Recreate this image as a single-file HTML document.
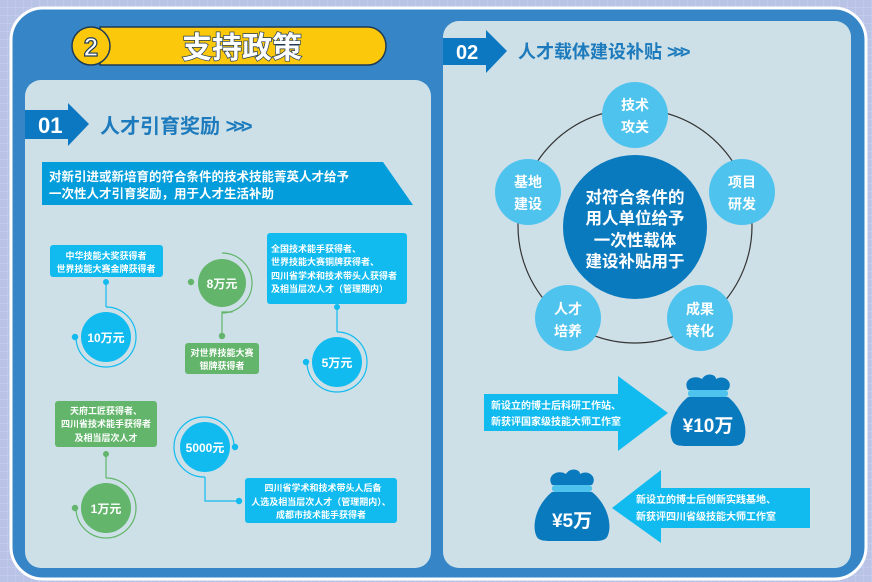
<!DOCTYPE html>
<html><head><meta charset="utf-8"><style>
html,body{margin:0;padding:0;}
body{width:872px;height:582px;overflow:hidden;background:#b9c3e6;}
svg{display:block;font-family:"Liberation Sans","Noto Sans CJK SC",sans-serif;font-weight:bold;}
</style></head><body>
<svg width="872" height="582" viewBox="0 0 872 582" xmlns="http://www.w3.org/2000/svg">
<defs>
<pattern id="g" width="8" height="8" patternUnits="userSpaceOnUse"><rect width="8" height="8" fill="#b9c3e6"/><path d="M8 0V8M0 8H8" stroke="#c9d2ef" stroke-width="1"/></pattern>
</defs>
<rect width="872" height="582" fill="url(#g)"/>
<rect x="11" y="8" width="855" height="571" rx="32" fill="#3585c7" stroke="#fff" stroke-width="3"/>
<rect x="25" y="80" width="406" height="488" rx="16" fill="#cde0e7"/>
<rect x="443" y="21" width="408" height="547" rx="16" fill="#cde0e7"/>

<!-- title -->
<path d="M100 27H368a18 19 0 0 1 0 38H100Z" fill="#fcc80c" stroke="#1f3a56" stroke-width="1.5"/>
<circle cx="91" cy="46" r="19" fill="#fcc80c" stroke="#1f3a56" stroke-width="1.5"/>
<text x="91" y="56" font-size="26" fill="#fff" stroke="#1f3a56" stroke-width="1.2" text-anchor="middle">2</text>
<text x="242" y="58" font-size="30" fill="#fff" stroke="#1f3a56" stroke-width="1.4" paint-order="stroke" text-anchor="middle">支持政策</text>

<!-- 01 -->
<path d="M25 110H68V103L89 124L68 146V139H25Z" fill="#0b78c1"/>
<text x="38" y="133" font-size="22" fill="#fff">01</text>
<text x="100" y="133" font-size="20" fill="#1d7bbd">人才引育奖励 <tspan letter-spacing="-4">&gt;&gt;&gt;</tspan></text>
<path d="M42 162H383L413 205H42Z" fill="#029dda"/>
<text x="49" y="181" font-size="12.5" fill="#fff">对新引进或新培育的符合条件的技术技能菁英人才给予</text>
<text x="49" y="198" font-size="12.5" fill="#fff">一次性人才引育奖励，用于人才生活补助</text>

<!-- 10万 -->
<rect x="50" y="245" width="113" height="32" rx="3" fill="#12bbef"/>
<text x="106" y="259" font-size="9" fill="#fff" text-anchor="middle">中华技能大奖获得者</text>
<text x="106" y="272" font-size="9" fill="#fff" text-anchor="middle">世界技能大赛金牌获得者</text>
<line x1="106" y1="282" x2="106" y2="307" stroke="#12bbef" stroke-width="1.2"/>
<circle cx="106" cy="282" r="3" fill="#12bbef"/>
<path d="M106 307A30 30 0 1 1 76 337" fill="none" stroke="#12bbef" stroke-width="1.2"/>
<circle cx="75" cy="337" r="3.2" fill="#12bbef"/>
<circle cx="106" cy="337" r="25" fill="#12bbef"/>
<text x="106" y="342" font-size="12" fill="#fff" text-anchor="middle">10万元</text>

<!-- 8万 -->
<path d="M222 253A30 30 0 1 1 222 313" fill="none" stroke="#62b56a" stroke-width="1.2"/>
<circle cx="191" cy="282" r="3.2" fill="#62b56a"/>
<circle cx="222" cy="283" r="24" fill="#62b56a"/>
<text x="222" y="288" font-size="12" fill="#fff" text-anchor="middle">8万元</text>
<path d="M232 311V312H222V336" fill="none" stroke="#62b56a" stroke-width="1.2"/>
<circle cx="222" cy="336" r="3.2" fill="#62b56a"/>
<rect x="185" y="343" width="74" height="31" rx="3" fill="#62b56a"/>
<text x="222" y="356" font-size="9" fill="#fff" text-anchor="middle">对世界技能大赛</text>
<text x="222" y="369" font-size="9" fill="#fff" text-anchor="middle">银牌获得者</text>

<!-- 5万 -->
<rect x="267" y="233" width="140" height="71" rx="3" fill="#12bbef"/>
<text x="271" y="252" font-size="9" fill="#fff">全国技术能手获得者、</text>
<text x="271" y="265" font-size="9" fill="#fff">世界技能大赛铜牌获得者、</text>
<text x="271" y="279" font-size="9" fill="#fff">四川省学术和技术带头人获得者</text>
<text x="271" y="292" font-size="9" fill="#fff">及相当层次人才（管理期内）</text>
<circle cx="337" cy="307" r="3" fill="#12bbef"/>
<line x1="337" y1="307" x2="337" y2="332" stroke="#12bbef" stroke-width="1.2"/>
<path d="M337 332A30 30 0 1 1 307 362" fill="none" stroke="#12bbef" stroke-width="1.2"/>
<circle cx="306" cy="362" r="3.2" fill="#12bbef"/>
<circle cx="337" cy="362" r="25" fill="#12bbef"/>
<text x="337" y="367" font-size="12" fill="#fff" text-anchor="middle">5万元</text>

<!-- 1万 -->
<rect x="55" y="401" width="102" height="46" rx="3" fill="#62b56a"/>
<text x="106" y="414" font-size="9" fill="#fff" text-anchor="middle">天府工匠获得者、</text>
<text x="106" y="427" font-size="9" fill="#fff" text-anchor="middle">四川省技术能手获得者</text>
<text x="106" y="441" font-size="9" fill="#fff" text-anchor="middle">及相当层次人才</text>
<circle cx="106" cy="454" r="3" fill="#62b56a"/>
<line x1="106" y1="454" x2="106" y2="478" stroke="#62b56a" stroke-width="1.2"/>
<path d="M106 478A30 30 0 1 1 76 508" fill="none" stroke="#62b56a" stroke-width="1.2"/>
<circle cx="75" cy="508" r="3.2" fill="#62b56a"/>
<circle cx="106" cy="508" r="25" fill="#62b56a"/>
<text x="106" y="513" font-size="12" fill="#fff" text-anchor="middle">1万元</text>

<!-- 5000 -->
<path d="M234 447A30 30 0 1 0 205 477" fill="none" stroke="#12bbef" stroke-width="1.2"/>
<circle cx="235" cy="447" r="3.2" fill="#12bbef"/>
<circle cx="205" cy="447" r="25" fill="#12bbef"/>
<text x="205" y="452" font-size="12" fill="#fff" text-anchor="middle">5000元</text>
<path d="M205 477V501H239" fill="none" stroke="#12bbef" stroke-width="1.2"/>
<circle cx="239" cy="501" r="3.2" fill="#12bbef"/>
<rect x="245" y="478" width="152" height="45" rx="3" fill="#12bbef"/>
<text x="323" y="491" font-size="9" fill="#fff" text-anchor="middle">四川省学术和技术带头人后备</text>
<text x="321" y="505" font-size="9" fill="#fff" text-anchor="middle">人选及相当层次人才（管理期内）、</text>
<text x="321" y="518" font-size="9" fill="#fff" text-anchor="middle">成都市技术能手获得者</text>

<!-- 02 -->
<path d="M443 38H486V30L507 51L486 73V65H443Z" fill="#0b78c1"/>
<text x="456" y="59" font-size="20" fill="#fff">02</text>
<text x="518" y="58" font-size="18" fill="#1d7bbd">人才载体建设补贴 <tspan letter-spacing="-4">&gt;&gt;&gt;</tspan></text>

<circle cx="635" cy="226" r="117" fill="none" stroke="#333" stroke-width="1.2"/>
<circle cx="635" cy="227" r="72" fill="#0a7abf"/>
<g font-size="16.5" fill="#fff" text-anchor="middle">
<text x="635" y="203">对符合条件的</text>
<text x="635" y="224">用人单位给予</text>
<text x="635" y="246">一次性载体</text>
<text x="635" y="267">建设补贴用于</text>
</g>
<g fill="#4ec3ee">
<circle cx="635" cy="115" r="33"/><circle cx="742" cy="192" r="33"/>
<circle cx="700" cy="318" r="33"/><circle cx="568" cy="318" r="33"/><circle cx="528" cy="192" r="33"/>
</g>
<g font-size="14" fill="#fff" text-anchor="middle">
<text x="635" y="110">技术</text><text x="635" y="132">攻关</text>
<text x="742" y="187">项目</text><text x="742" y="209">研发</text>
<text x="700" y="314">成果</text><text x="700" y="336">转化</text>
<text x="568" y="314">人才</text><text x="568" y="336">培养</text>
<text x="528" y="187">基地</text><text x="528" y="209">建设</text>
</g>

<!-- arrow 1 -->
<path d="M484 394H618V376L668 413L618 451V431H484Z" fill="#12bbef"/>
<text x="491" y="409" font-size="10" fill="#fff">新设立的博士后科研工作站、</text>
<text x="491" y="425" font-size="10" fill="#fff">新获评国家级技能大师工作室</text>
<g transform="translate(708,0)">
<path d="M-20 390C-26 380-14 374-6 379C-2 372 8 374 8 379C16 374 26 382 20 390Z" fill="#0a7abf"/>
<rect x="-20" y="390" width="40" height="7" rx="3" fill="#4ec3ee"/>
<path d="M-20 397C-36 410-40 430-36 440C-34 446-28 446-20 446H20C28 446 34 446 36 440C40 430 36 410 20 397Z" fill="#0a7abf"/>
<text x="0" y="432" font-size="19" fill="#fff" text-anchor="middle">¥10万</text>
</g>

<!-- arrow 2 -->
<path d="M810 488H661V470L612 508L661 543V528H810Z" fill="#12bbef"/>
<text x="636" y="503" font-size="10" fill="#fff">新设立的博士后创新实践基地、</text>
<text x="636" y="520" font-size="10" fill="#fff">新获评四川省级技能大师工作室</text>
<g transform="translate(572,95)">
<path d="M-20 390C-26 380-14 374-6 379C-2 372 8 374 8 379C16 374 26 382 20 390Z" fill="#0a7abf"/>
<rect x="-20" y="390" width="40" height="7" rx="3" fill="#4ec3ee"/>
<path d="M-20 397C-36 410-40 430-36 440C-34 446-28 446-20 446H20C28 446 34 446 36 440C40 430 36 410 20 397Z" fill="#0a7abf"/>
<text x="0" y="432" font-size="19" fill="#fff" text-anchor="middle">¥5万</text>
</g>
</svg>
</body></html>
